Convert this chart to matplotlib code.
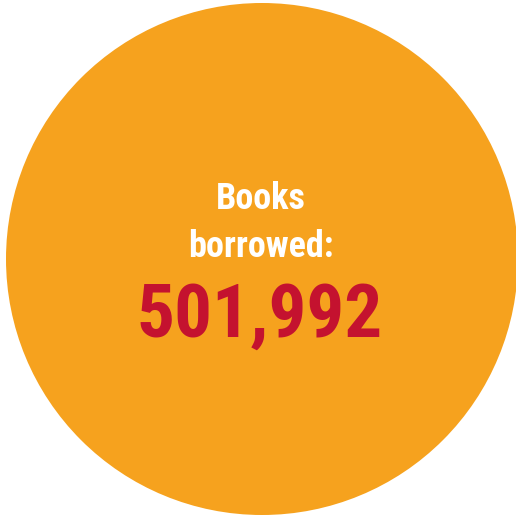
import matplotlib
matplotlib.use("Agg")
import matplotlib.pyplot as plt
from matplotlib.patches import Circle

# data
label_lines = ["Books", "borrowed:"]
value = 501992

circle_color = "#F6A21E"
value_color = "#C4122F"

fig = plt.figure(figsize=(5.16, 5.15), dpi=100)
ax = fig.add_axes([0, 0, 1, 1])
ax.set_xlim(0, 516)
ax.set_ylim(515, 0)
ax.axis("off")

ax.add_patch(Circle((262, 259), 256, color=circle_color, lw=0))

font = ["Roboto Condensed", "DejaVu Sans"]
ax.text(261, 209, label_lines[0], ha="center", va="baseline", color="white",
        fontsize=26, fontweight="bold", family=font)
ax.text(261, 257, label_lines[1], ha="center", va="baseline", color="white",
        fontsize=26, fontweight="bold", family=font)
ax.text(260, 337, f"{value:,}", ha="center", va="baseline", color=value_color,
        fontsize=54, fontweight="bold", family=font)

fig.savefig("out.png", dpi=100)
